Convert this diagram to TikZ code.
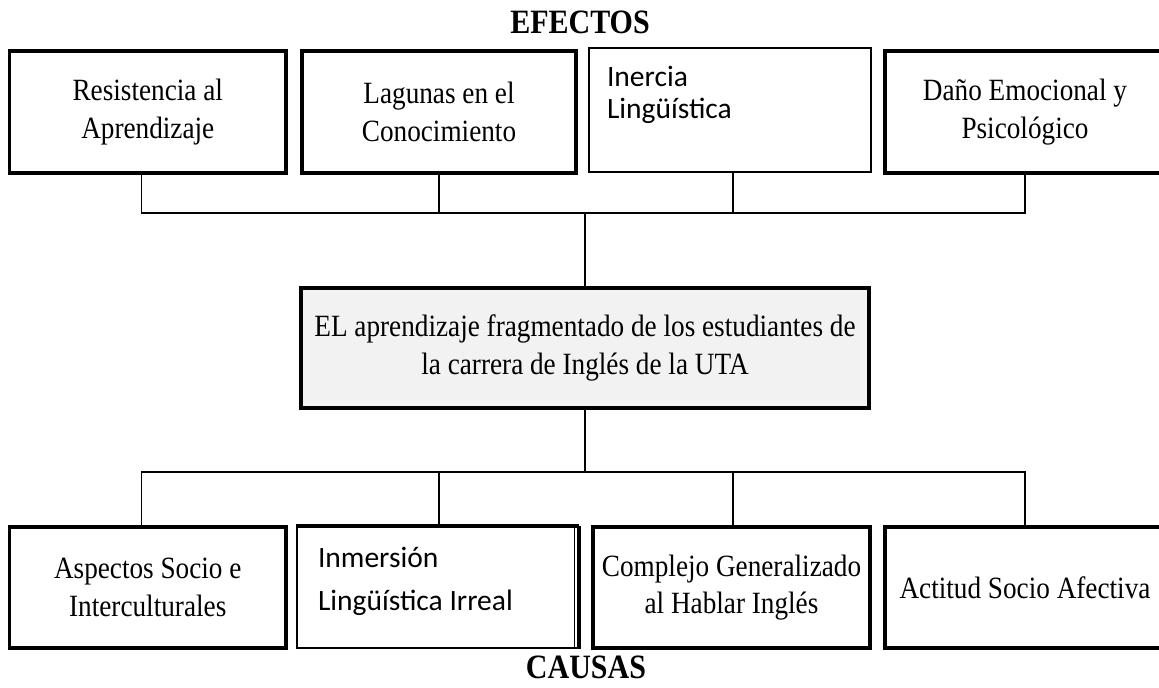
\documentclass[tikz,border=0pt]{standalone}
\usepackage{fontspec}
\setmainfont{Liberation Serif}[FakeStretch=0.88]
\newfontfamily\calibri{Carlito}
\definecolor{probfill}{HTML}{F2F2F2}
% text placed at the top left corner of a box
\newcommand{\cornertext}[5]{\parbox[c][#2][t]{#1}{\vspace*{#3}\raggedright\leftskip=#4\relax #5}}
\begin{document}
\begin{tikzpicture}[
  thickbox/.style={draw, line width=1.9pt, inner sep=0pt, align=center,
    minimum height=2.44cm, font=\fontsize{17.6}{21.4}\selectfont},
  thinbox/.style={draw, line width=1pt, inner sep=0pt,
    font=\calibri\fontsize{16.8}{18.2}\selectfont},
  heading/.style={font=\bfseries\fontsize{19.4}{20}\selectfont},
  link/.style={line width=0.7pt}]
\useasboundingbox (0,0) rectangle (23.18,13.74);

\node[heading] (efectos) at (11.60,13.30) {EFECTOS};
\node[heading] (causas) at (11.72,0.40) {CAUSAS};

% efectos
\node[thickbox, minimum width=5.53cm] (r1) at (2.955,11.50) {Resistencia al\\Aprendizaje};
\node[thickbox, minimum width=5.48cm] (r2) at (8.78,11.50) {Lagunas en el\\Conocimiento};
\node[thinbox] (r3) at (14.60,11.54) {\cornertext{5.64cm}{2.48cm}{0.36cm}{0.36cm}{Inercia\\Lingüística}};
\node[thickbox, minimum width=5.60cm] (r4) at (20.50,11.50) {Daño Emocional y\\Psicológico};

% problema
\node[thickbox, fill=probfill, minimum width=11.36cm, minimum height=2.40cm] (prob) at (11.70,6.78)
  {EL aprendizaje fragmentado de los estudiantes de\\la carrera de Inglés de la UTA};

% causas
\node[thickbox, minimum width=5.53cm, minimum height=2.42cm] (c1) at (2.955,1.99) {Aspectos Socio e\\Interculturales};
\node[thinbox, line width=1.3pt] (c2) at (8.75,1.99)
  {\cornertext{5.62cm}{2.42cm}{0.40cm}{0.42cm}{\fontsize{16.8}{24.5}\selectfont Inmersión\\Lingüística Irreal}};
\node[thickbox, minimum width=5.54cm, minimum height=2.42cm] (c3) at (14.63,1.99) {Complejo Generalizado\\al Hablar Inglés};
\node[thickbox, minimum width=5.60cm, minimum height=2.42cm] (c4) at (20.50,1.99) {Actitud Socio Afectiva};
\draw[line width=1.9pt] (c2.north east) -- (c2.south east);
\draw[line width=0.6pt] ([xshift=-0.1cm]c2.north east) -- ([xshift=-0.1cm]c2.south east);
\draw[line width=1.9pt] (c2.north west) -- (c2.north east);

% lineas
\coordinate (topbus) at (11.70,9.48);
\coordinate (lowbus) at (11.70,4.30);
\draw[link] ([xshift=-0.12cm]r1.south) |- (topbus) -| (r4.south);
\draw[link] (r2.south) -- (r2.south |- topbus);
\draw[link] ([xshift=0.06cm]r3.south) -- ([xshift=0.06cm]r3.south |- topbus);
\draw[link] (prob.north) -- (topbus);
\draw[link] (prob.south) -- (lowbus);
\draw[link] ([xshift=-0.12cm]c1.north) |- (lowbus) -| (c4.north);
\draw[link] ([xshift=0.03cm]c2.north) -- ([xshift=0.03cm]c2.north |- lowbus);
\draw[link] ([xshift=0.03cm]c3.north) -- ([xshift=0.03cm]c3.north |- lowbus);
\end{tikzpicture}
\end{document}
